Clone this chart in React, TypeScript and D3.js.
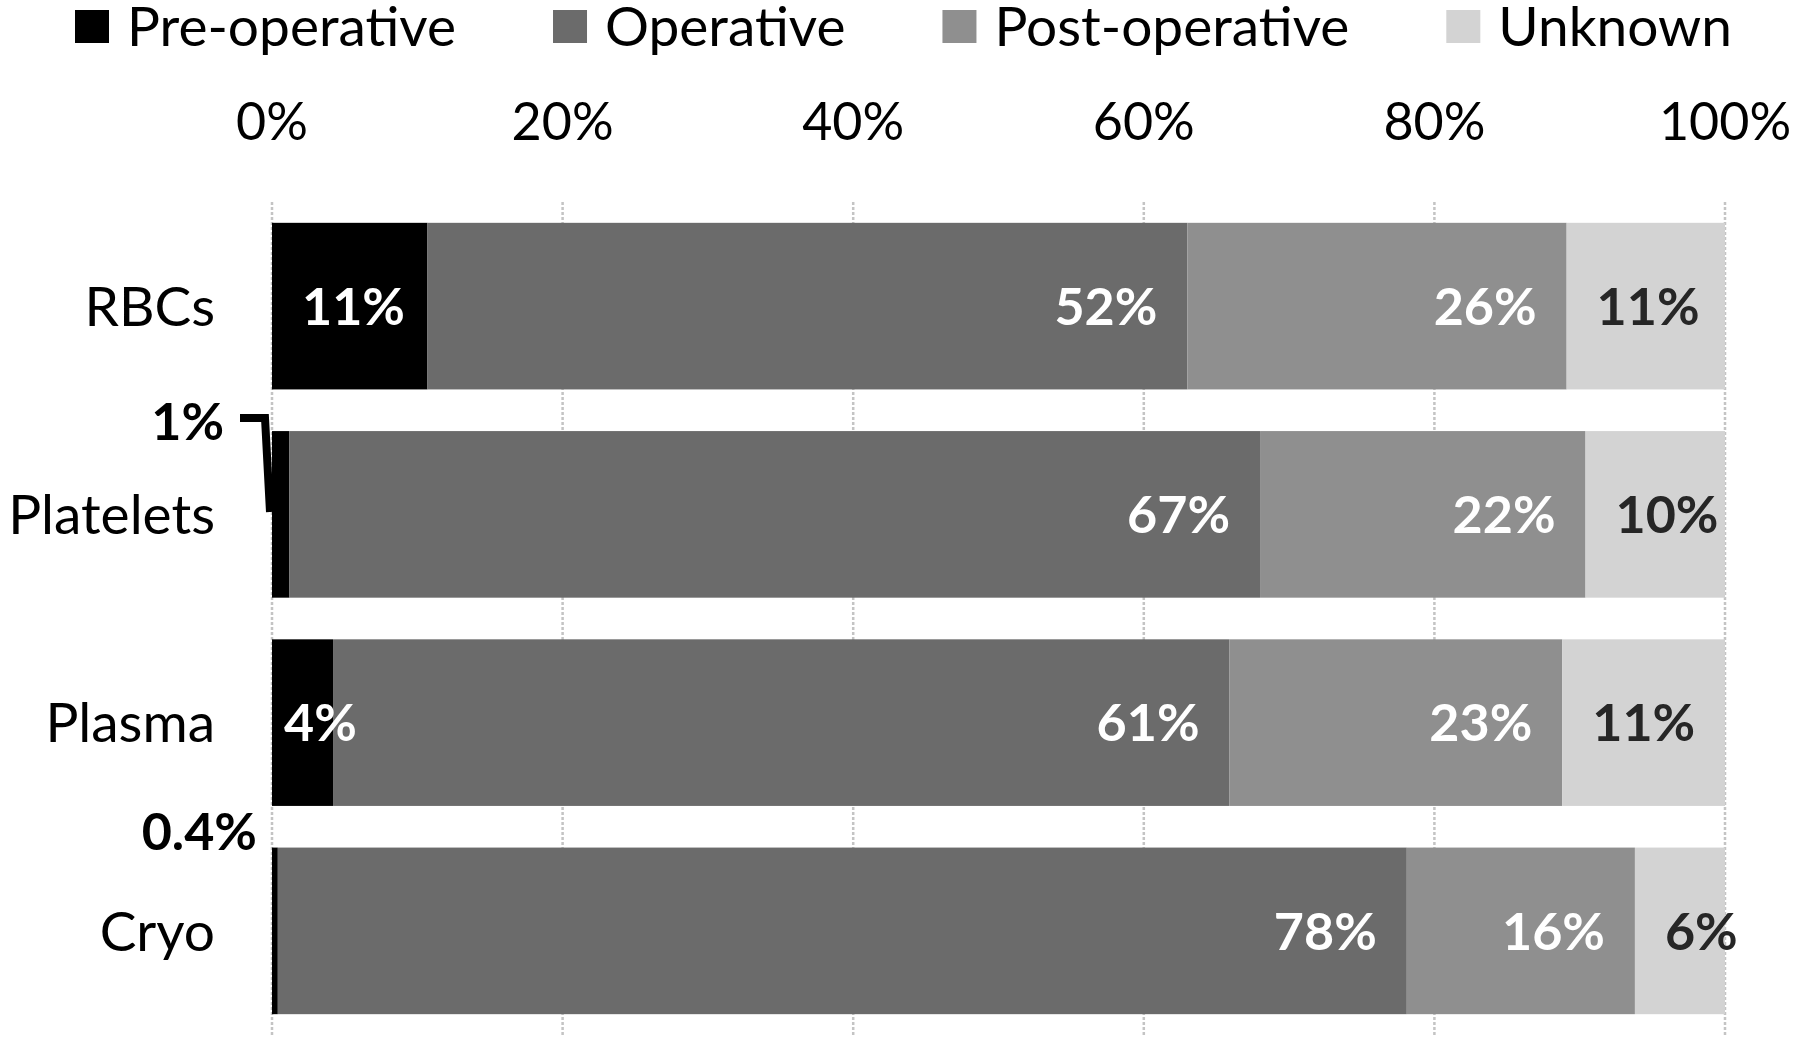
import React, { useEffect, useRef } from 'react';
import * as d3 from 'd3';

const categories = ['RBCs', 'Platelets', 'Plasma', 'Cryo'];
const seriesNames = ['Pre-operative', 'Operative', 'Post-operative', 'Unknown'];
const preOperative = [10.7, 1.2, 4.2, 0.4];
const operative = [52.3, 66.8, 61.7, 77.7];
const postOperative = [26.1, 22.4, 22.9, 15.7];
const unknown = [10.9, 9.6, 11.2, 6.2];
const preLabels = ['11%', '1%', '4%', '0.4%'];
const opLabels = ['52%', '67%', '61%', '78%'];
const postLabels = ['26%', '22%', '23%', '16%'];
const unknownLabels = ['11%', '10%', '11%', '6%'];
const xTicks = [0, 20, 40, 60, 80, 100];

const seriesColors = ['#000000', '#6b6b6b', '#8f8f8f', '#d3d3d3'];
const labelColors = ['#ffffff', '#ffffff', '#ffffff', '#262626'];
const FONT = 'Lato, "Open Sans", sans-serif';

export default function App() {
  const ref = useRef<SVGSVGElement>(null);

  useEffect(() => {
    const svg = d3.select(ref.current);
    svg.selectAll('*').remove();

    const x = d3.scaleLinear().domain([0, 100]).range([272, 1725]);
    const y = d3.scaleBand<string>().domain(categories).range([202, 1035]).paddingInner(0.2).paddingOuter(0.1);

    const seriesValues = [preOperative, operative, postOperative, unknown];
    const seriesLabels = [preLabels, opLabels, postLabels, unknownLabels];
    const rows = categories.map((c, i) => {
      const r: any = { category: c };
      seriesNames.forEach((s, j) => (r[s] = seriesValues[j][i]));
      return r;
    });
    const stacked = d3.stack().keys(seriesNames)(rows);

    // gridlines
    svg.append('g')
      .selectAll('line')
      .data(xTicks)
      .join('line')
      .attr('x1', d => x(d)).attr('x2', d => x(d))
      .attr('y1', 202).attr('y2', 1035)
      .attr('stroke', '#c4c4c4')
      .attr('stroke-width', 2.5)
      .attr('stroke-dasharray', '3,2');

    // tick labels
    svg.append('g')
      .selectAll('text')
      .data(xTicks)
      .join('text')
      .attr('x', d => x(d))
      .attr('y', 140)
      .attr('text-anchor', 'middle')
      .attr('font-family', FONT)
      .attr('font-size', 52)
      .attr('fill', '#000')
      .text(d => d + '%');

    // category labels
    svg.append('g')
      .selectAll('text')
      .data(categories)
      .join('text')
      .attr('x', 215)
      .attr('y', d => (y(d) as number) + y.bandwidth() / 2)
      .attr('dy', '0.36em')
      .attr('text-anchor', 'end')
      .attr('font-family', FONT)
      .attr('font-size', 55)
      .attr('fill', '#000')
      .text(d => d);

    // bars
    stacked.forEach((layer, j) => {
      svg.append('g')
        .selectAll('rect')
        .data(layer)
        .join('rect')
        .attr('x', d => x(d[0]))
        .attr('y', (d: any) => y(d.data.category) as number)
        .attr('width', d => x(d[1]) - x(d[0]))
        .attr('height', y.bandwidth())
        .attr('fill', seriesColors[j]);
    });

    // data labels
    const pad = 30;
    stacked.forEach((layer, j) => {
      layer.forEach((d: any, i) => {
        const x0 = x(d[0]), x1 = x(d[1]);
        const segW = x1 - x0;
        const cy = (y(d.data.category) as number) + y.bandwidth() / 2;
        const label = seriesLabels[j][i];
        if (segW < 30) {
          // outside labels for tiny segments
          const top = y(d.data.category) as number;
          if (label === '1%') {
            svg.append('text')
              .attr('x', 224).attr('y', top + 9)
              .attr('text-anchor', 'end')
              .attr('font-family', FONT).attr('font-weight', 700)
              .attr('font-size', 52).attr('fill', '#000')
              .text(label);
            svg.append('path')
              .attr('d', `M240,${top - 13}L${x0 - 7},${top - 13}L${x0 - 2},${top + 81}`)
              .attr('fill', 'none').attr('stroke', '#000').attr('stroke-width', 8);
          } else {
            svg.append('text')
              .attr('x', 257).attr('y', top + 2)
              .attr('text-anchor', 'end')
              .attr('font-family', FONT).attr('font-weight', 700)
              .attr('font-size', 52).attr('fill', '#000')
              .text(label);
          }
          return;
        }
        const t = svg.append('text')
          .attr('y', cy)
          .attr('dy', '0.36em')
          .attr('font-family', FONT).attr('font-weight', 700)
          .attr('font-size', 52).attr('fill', labelColors[j])
          .text(label);
        const w = (t.node() as SVGTextElement).getComputedTextLength();
        if (w + 2 * pad <= segW) {
          t.attr('x', x1 - pad).attr('text-anchor', 'end');
        } else if (w <= segW) {
          t.attr('x', x0 + pad).attr('text-anchor', 'start');
        } else {
          t.attr('x', x0 + 12).attr('text-anchor', 'start');
        }
      });
    });

    // legend
    let lx = 75;
    seriesNames.forEach((s, j) => {
      svg.append('rect')
        .attr('x', lx).attr('y', 10).attr('width', 34).attr('height', 33)
        .attr('fill', seriesColors[j]);
      const t = svg.append('text')
        .attr('x', lx + 52).attr('y', 46)
        .attr('font-family', FONT).attr('font-size', 55).attr('fill', '#000')
        .text(s);
      const bb = (t.node() as SVGTextElement).getBBox();
      lx = bb.x + bb.width + 97;
    });
  }, []);

  return (
    <svg
      ref={ref}
      width={1800}
      height={1040}
      style={{ position: 'absolute', left: 0, top: 0, background: '#fff' }}
    />
  );
}
